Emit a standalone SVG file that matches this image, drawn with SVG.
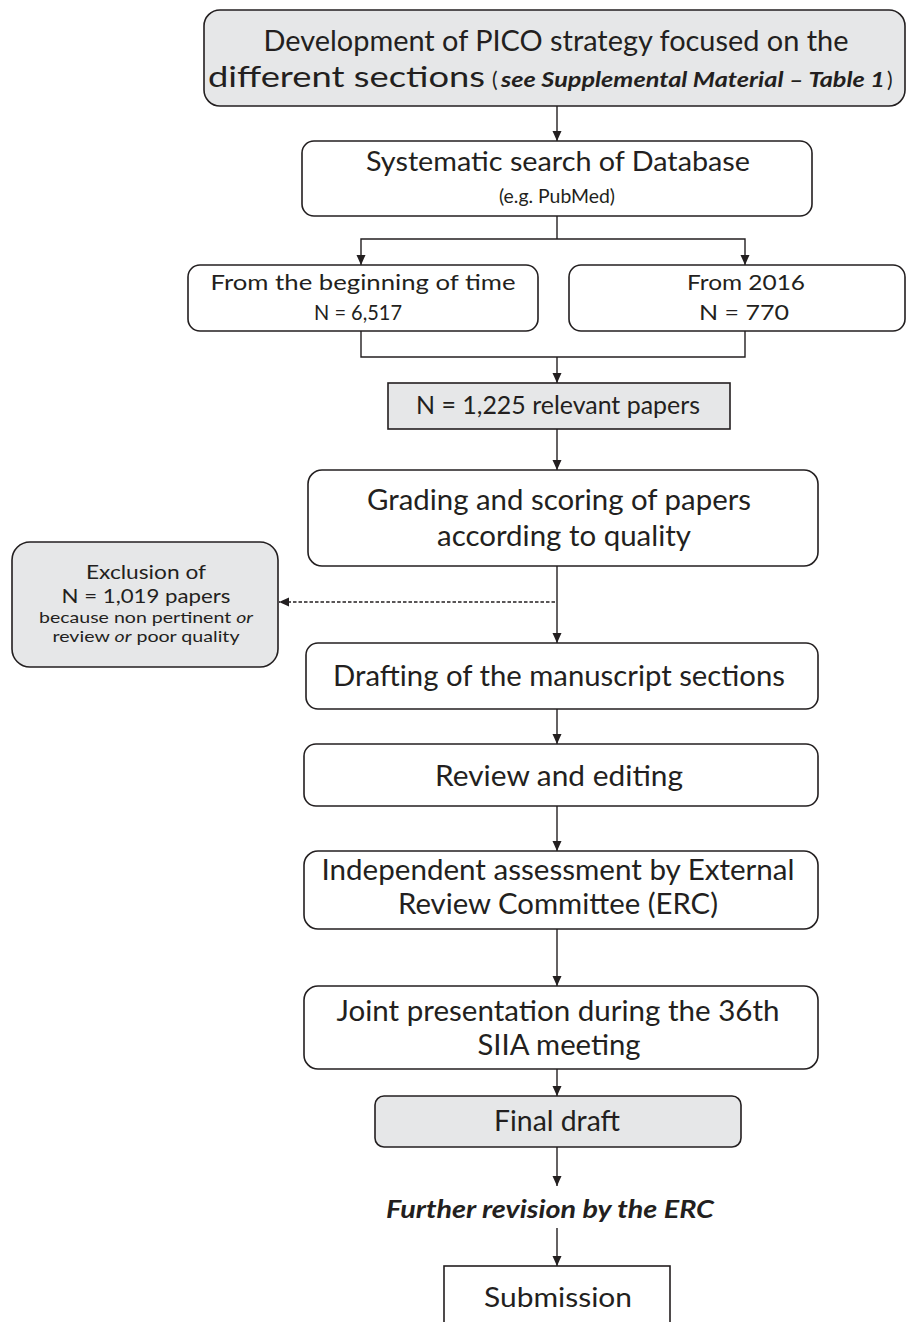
<svg xmlns="http://www.w3.org/2000/svg" width="909" height="1322" viewBox="0 0 909 1322">
<defs>
<marker id="ah" markerWidth="10" markerHeight="10" refX="10" refY="4.5" orient="auto-start-reverse" markerUnits="userSpaceOnUse" viewBox="0 0 10 9">
<path d="M0,0 L10,4.5 L0,9 Z" fill="#231f20"/>
</marker>
</defs>
<style>
.box{fill:#ffffff;stroke:#231f20;stroke-width:1.6}
.gray{fill:#e6e7e8;stroke:#231f20;stroke-width:1.6}
.t{font-family:Lato,"Open Sans",sans-serif;fill:#231f20;text-anchor:middle}
.s{font-family:Lato,"Open Sans",sans-serif;fill:#231f20;text-anchor:start}
.c{fill:none;stroke:#231f20;stroke-width:1.4}
.bi{font-weight:bold;font-style:italic}
</style>
<rect width="909" height="1322" fill="#ffffff"/>
<g id="connectors">
<line class="c" x1="557" y1="106" x2="557" y2="141" marker-end="url(#ah)"/>
<polyline class="c" points="557,216 557,239"/>
<polyline class="c" points="361,265 361,239 745,239 745,265" marker-start="url(#ah)" marker-end="url(#ah)"/>
<polyline class="c" points="361,331 361,357 745,357 745,331"/>
<line class="c" x1="557" y1="357" x2="557" y2="383" marker-end="url(#ah)"/>
<line class="c" x1="557" y1="429" x2="557" y2="470" marker-end="url(#ah)"/>
<line class="c" x1="557" y1="566" x2="557" y2="643" marker-end="url(#ah)"/>
<line class="c" x1="555" y1="602" x2="279" y2="602" stroke-dasharray="3.5,2" marker-end="url(#ah)"/>
<line class="c" x1="557" y1="709" x2="557" y2="744" marker-end="url(#ah)"/>
<line class="c" x1="557" y1="806" x2="557" y2="851" marker-end="url(#ah)"/>
<line class="c" x1="557" y1="929" x2="557" y2="986" marker-end="url(#ah)"/>
<line class="c" x1="557" y1="1069" x2="557" y2="1096" marker-end="url(#ah)"/>
<line class="c" x1="557" y1="1147" x2="557" y2="1186" marker-end="url(#ah)"/>
<line class="c" x1="557" y1="1228" x2="557" y2="1266" marker-end="url(#ah)"/>
</g>
<g id="pico">
<rect class="gray" x="204" y="10" width="701" height="96" rx="16"/>
<text class="t" x="556" y="51" font-size="28" textLength="585" lengthAdjust="spacingAndGlyphs">Development of PICO strategy focused on the</text>
<text class="s" x="208" y="87" font-size="28" textLength="277" lengthAdjust="spacingAndGlyphs">different sections</text>
<text class="s" x="492" y="87" font-size="21">(</text>
<text class="s bi" x="501" y="87" font-size="20" textLength="384" lengthAdjust="spacingAndGlyphs">see Supplemental Material – Table 1</text>
<text class="s" x="887" y="87" font-size="21">)</text>
</g>
<g id="search">
<rect class="box" x="302" y="141" width="510" height="75" rx="12"/>
<text class="t" x="558" y="171" font-size="27" textLength="384" lengthAdjust="spacingAndGlyphs">Systematic search of Database</text>
<text class="t" x="557" y="203" font-size="20" textLength="116" lengthAdjust="spacingAndGlyphs">(e.g. PubMed)</text>
</g>
<g id="beginning">
<rect class="box" x="188" y="265" width="350" height="66" rx="12"/>
<text class="t" x="363" y="290" font-size="21" textLength="305" lengthAdjust="spacingAndGlyphs">From the beginning of time</text>
<text class="t" x="358" y="320" font-size="22" textLength="88" lengthAdjust="spacingAndGlyphs">N = 6,517</text>
</g>
<g id="from2016">
<rect class="box" x="569" y="265" width="336" height="66" rx="12"/>
<text class="t" x="746" y="290" font-size="21" textLength="118" lengthAdjust="spacingAndGlyphs">From 2016</text>
<text class="t" x="744" y="320" font-size="22" textLength="90" lengthAdjust="spacingAndGlyphs">N = 770</text>
</g>
<g id="relevant">
<rect class="gray" x="388" y="383" width="342" height="46"/>
<text class="t" x="558" y="414" font-size="25" textLength="284" lengthAdjust="spacingAndGlyphs">N = 1,225 relevant papers</text>
</g>
<g id="grading">
<rect class="box" x="308" y="470" width="510" height="96" rx="14"/>
<text class="t" x="559" y="510" font-size="28" textLength="384" lengthAdjust="spacingAndGlyphs">Grading and scoring of papers</text>
<text class="t" x="564" y="546" font-size="28" textLength="254" lengthAdjust="spacingAndGlyphs">according to quality</text>
</g>
<g id="exclusion">
<rect class="gray" x="12" y="542" width="266" height="125" rx="18"/>
<text class="t" x="146" y="579" font-size="19" textLength="120" lengthAdjust="spacingAndGlyphs">Exclusion of</text>
<text class="t" x="146" y="603" font-size="20" textLength="169" lengthAdjust="spacingAndGlyphs">N = 1,019 papers</text>
<text class="t" x="146" y="623" font-size="15" textLength="214" lengthAdjust="spacingAndGlyphs">because non pertinent <tspan font-style="italic">or</tspan></text>
<text class="t" x="146" y="642" font-size="15" textLength="187" lengthAdjust="spacingAndGlyphs">review <tspan font-style="italic">or</tspan> poor quality</text>
</g>
<g id="drafting">
<rect class="box" x="306" y="643" width="512" height="66" rx="12"/>
<text class="t" x="559" y="686" font-size="28" textLength="452" lengthAdjust="spacingAndGlyphs">Drafting of the manuscript sections</text>
</g>
<g id="review">
<rect class="box" x="304" y="744" width="514" height="62" rx="12"/>
<text class="t" x="559" y="786" font-size="28" textLength="248" lengthAdjust="spacingAndGlyphs">Review and editing</text>
</g>
<g id="assessment">
<rect class="box" x="304" y="851" width="514" height="78" rx="14"/>
<text class="t" x="558" y="880" font-size="28" textLength="473" lengthAdjust="spacingAndGlyphs">Independent assessment by External</text>
<text class="t" x="558" y="914" font-size="28" textLength="320" lengthAdjust="spacingAndGlyphs">Review Committee (ERC)</text>
</g>
<g id="joint">
<rect class="box" x="304" y="986" width="514" height="83" rx="14"/>
<text class="t" x="558" y="1021" font-size="28" textLength="443" lengthAdjust="spacingAndGlyphs">Joint presentation during the 36th</text>
<text class="t" x="559" y="1055" font-size="28" textLength="163" lengthAdjust="spacingAndGlyphs">SIIA meeting</text>
</g>
<g id="final">
<rect class="gray" x="375" y="1096" width="366" height="51" rx="9"/>
<text class="t" x="557" y="1131" font-size="28" textLength="126" lengthAdjust="spacingAndGlyphs">Final draft</text>
</g>
<g id="further">
<text class="t bi" x="550" y="1218" font-size="25" textLength="328" lengthAdjust="spacingAndGlyphs">Further revision by the ERC</text>
</g>
<g id="submission">
<rect class="box" x="444" y="1266" width="226" height="66"/>
<text class="t" x="558" y="1307" font-size="27" textLength="148" lengthAdjust="spacingAndGlyphs">Submission</text>
</g>
</svg>
